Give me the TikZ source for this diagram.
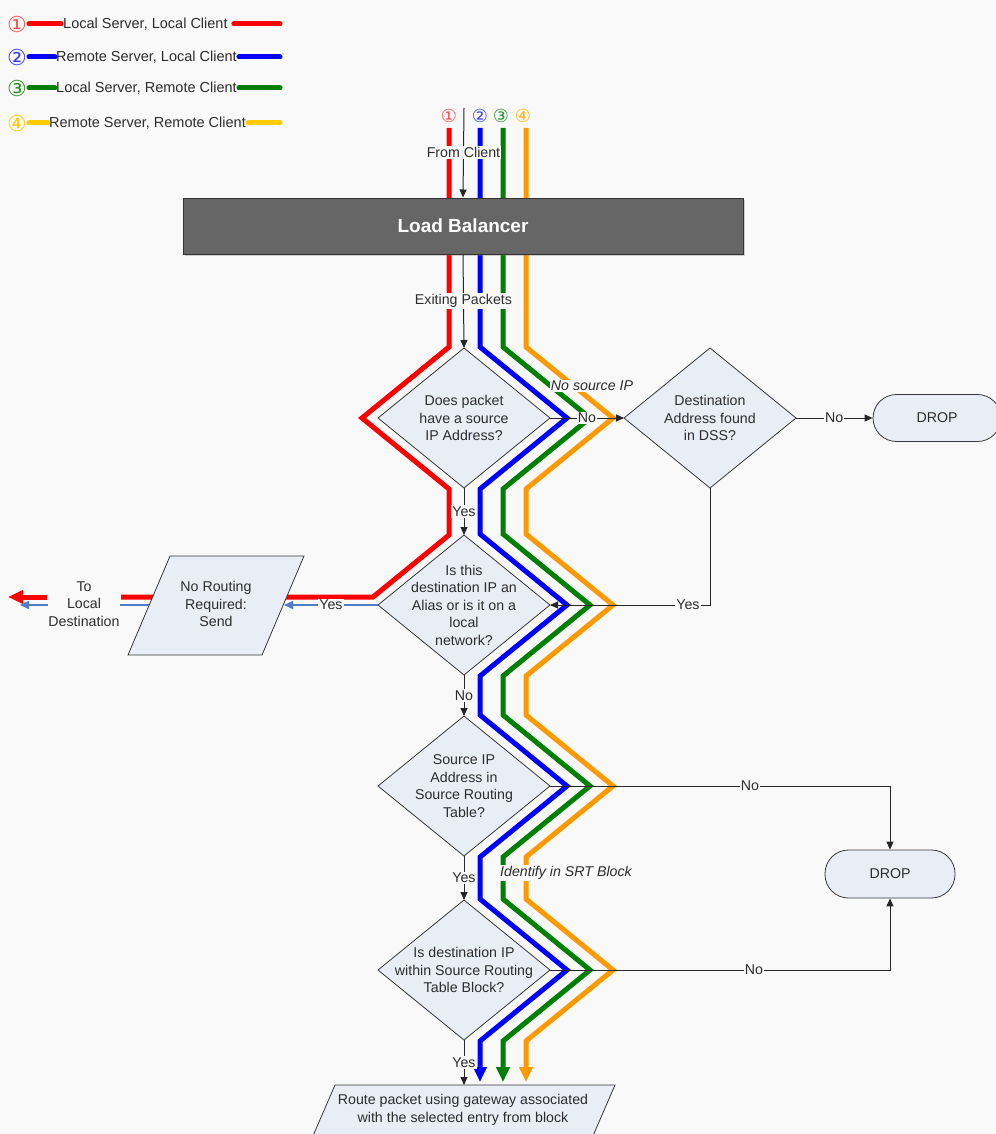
\documentclass[tikz,border=0pt]{standalone}
\usepackage{fontspec}
\setmainfont{Liberation Sans}
\newfontfamily\symfont{DejaVu Sans}
\usetikzlibrary{arrows.meta,shapes.geometric,shadows,calc}
\definecolor{bgc}{RGB}{249,249,249}
\definecolor{cred}{RGB}{255,0,0}
\definecolor{cblue}{RGB}{0,0,255}
\definecolor{cgreen}{RGB}{0,128,0}
\definecolor{corange}{RGB}{255,153,0}
\definecolor{cgold}{RGB}{255,204,0}
\definecolor{dfill}{RGB}{232,237,246}
\definecolor{txt}{RGB}{45,45,45}
\definecolor{yesblue}{RGB}{80,125,200}
\definecolor{lbfill}{RGB}{102,102,102}
\tikzset{
 dia/.style={diamond, draw=black!78, fill=dfill, line width=0.8pt, minimum width=172pt, minimum height=140pt, inner sep=0pt, outer sep=0pt},
 dtext/.style={align=center, font=\fontsize{14.2}{17.5}\selectfont, text=txt, inner sep=0pt},
 lbl/.style={fill=bgc, inner xsep=1pt, inner ysep=1.5pt, font=\fontsize{14.2}{16}\selectfont, text=txt},
 conn/.style={draw=black!85, line width=1pt},
 arr/.style={-{Triangle[length=8pt,width=7pt]}},
 cl/.style={line width=5pt, line join=miter},
 bigarr/.style={-{Triangle[length=15pt,width=13pt]}},
 dropbox/.style={rectangle, rounded corners=23.5pt, draw=black!78, fill=dfill, line width=0.8pt, minimum height=47pt, font=\fontsize{14.2}{16}\selectfont, text=txt},
 pshape/.style={draw=black!78, fill=dfill, line width=0.8pt},
 legt/.style={inner sep=0pt, font=\fontsize{14.5}{16}\selectfont, text=txt},
 legl/.style={line width=5pt, line cap=round},
 circ/.style={font=\symfont\fontsize{22}{24}\selectfont, inner sep=0pt},
 tcirc/.style={font=\symfont\fontsize{18}{20}\selectfont, inner sep=0pt},
 yl/.style={draw=yesblue, line width=1.5pt},
 yarr/.style={-{Triangle[length=9pt,width=8pt]}, yesblue},
}
\begin{document}
\begin{tikzpicture}[x=1pt,y=-1pt]
\useasboundingbox (0,0) rectangle (995,1134);
\fill[bgc] (0,0) rectangle (995,1134);

% ---------- legend ----------
\node[circ, text={rgb,255:red,255;green,80;blue,80}] (c1) at (17,24) {①};
\node[legt, anchor=west] (t1) at (63,24) {Local Server, Local Client};
\coordinate (e1) at (280,24);
\draw[legl, cred] ($(c1.center)+(12,0)$) -- ($(t1.west)+(-2,0)$);
\draw[legl, cred] ($(t1.east)+(6,0)$) -- (e1);

\node[circ, text={rgb,255:red,60;green,60;blue,255}] (c2) at (17,57) {②};
\node[legt, anchor=west] (t2) at (56,57) {Remote Server, Local Client};
\coordinate (e2) at (280,57);
\draw[legl, cblue] ($(c2.center)+(12,0)$) -- ($(t2.west)+(-1,0)$);
\draw[legl, cblue] ($(t2.east)+(2,0)$) -- (e2);

\node[circ, text={rgb,255:red,40;green,150;blue,40}] (c3) at (17,88) {③};
\node[legt, anchor=west] (t3) at (56,88) {Local Server, Remote Client};
\coordinate (e3) at (280,88);
\draw[legl, cgreen] ($(c3.center)+(12,0)$) -- ($(t3.west)+(-1,0)$);
\draw[legl, cgreen] ($(t3.east)+(2,0)$) -- (e3);

\node[circ, text=cgold] (c4) at (17,123) {④};
\node[legt, anchor=west] (t4) at (49,123) {Remote Server, Remote Client};
\coordinate (e4) at (280,123);
\draw[legl, cgold] ($(c4.center)+(12,0)$) -- ($(t4.west)+(-1,0)$);
\draw[legl, cgold] ($(t4.east)+(2,0)$) -- (e4);

% ---------- circled numbers on top ----------
\node[tcirc, text={rgb,255:red,255;green,80;blue,80}] (n1) at (449,116) {①};
\node[tcirc, text={rgb,255:red,60;green,60;blue,255}] (n2) at (480,116) {②};
\node[tcirc, text={rgb,255:red,40;green,150;blue,40}] (n3) at (501,116) {③};
\node[tcirc, text={rgb,255:red,255;green,185;blue,0}] (n4) at (523,116) {④};

% ---------- coloured paths ----------
\foreach \x/\c in {480/cblue, 503/cgreen, 526/corange} {
  \draw[cl, \c, bigarr] (\x,128) -- (\x,347) -- ++(87,71) -- ++(-87,71) -- (\x,534)
     -- ++(87,71) -- ++(-87,71) -- (\x,715) -- ++(87,71) -- ++(-87,71) -- (\x,899)
     -- ++(87,71) -- ++(-87,71) -- (\x,1082);
}
\draw[cl, cred] (449,128) -- (449,347) -- ++(-87,71) -- ++(87,71) -- (449,535) -- (373,597) -- (121,597);
\draw[cl, cred, bigarr] (47,597) -- (8,597);

% ---------- load balancer ----------
\node[draw=black!80, fill=lbfill, minimum width=560pt, minimum height=56pt, line width=1pt,
      drop shadow={opacity=0.35, shadow xshift=1.5pt, shadow yshift=-1.5pt},
      font=\bfseries\fontsize{19}{22}\selectfont, text=white] (lb) at (463,226) {Load Balancer};

% ---------- shapes ----------
\node[dia] (d1) at (464,418) {};
\node[dtext] (d1t) at (d1) {Does packet\\have a source\\IP Address?};
\node[dia] (dss) at (710,418) {};
\node[dtext] (dsst) at (dss) {Destination\\Address found\\in DSS?};
\node[dropbox, minimum width=128pt] (drop1) at (937,418) {DROP};
\node[dia] (d2) at (464,605) {};
\node[dtext] (d2t) at (d2) {Is this\\destination IP an\\Alias or is it on a\\local\\network?};
\node[dia] (d3) at (464,786) {};
\node[dtext] (d3t) at (d3) {Source IP\\Address in\\Source Routing\\Table?};
\node[dia] (d4) at (464,970) {};
\node[dtext] (d4t) at (d4) {Is destination IP\\within Source Routing\\Table Block?};
\node[dropbox, minimum width=130pt, minimum height=48pt] (drop2) at (890,874) {DROP};

\draw[pshape] (170,556) -- (304,556) -- (262,655) -- (128,655) -- cycle;
\node[dtext] (p1) at (216,604) {No Routing\\Required:\\Send};
\coordinate (p1e) at (284,605);
\coordinate (p1w) at (149,605);

\draw[pshape] (335,1085) -- (615,1085) -- (589,1145) -- (309,1145) -- cycle;
\node[dtext] (p2) at (463,1110) {Route packet using gateway associated\\with the selected entry from block};
\coordinate (p2n) at (464,1085);

\node[dtext] (tld) at (84,604) {To\\Local\\Destination};

% ---------- connectors ----------
\coordinate (fc) at (464,108);
\draw[conn, arr] (fc) -- node[lbl] {From Client} (lb.north);
\draw[conn, arr] (lb.south) -- node[lbl] {Exiting Packets} (d1.north);
\draw[conn, arr] (d1.south) -- node[lbl] {Yes} (d2.north);
\draw[conn, arr] (d1.east) -- node[lbl] {No} (dss.west);
\draw[conn, arr] (dss.east) -- node[lbl] {No} (drop1.west);
\draw[conn, arr] (dss.south) |- node[lbl, pos=0.569] {Yes} (d2.east);
\draw[conn, arr] (d2.south) -- node[lbl] {No} (d3.north);
\draw[conn, arr] (d3.east) -| node[lbl, pos=0.294] {No} (drop2.north);
\draw[conn, arr] (d3.south) -- node[lbl] {Yes} (d4.north);
\draw[conn, arr] (d4.east) -| node[lbl, pos=0.30] {No} (drop2.south);
\draw[conn, arr] (d4.south) -- node[lbl] {Yes} (p2n);

\draw[yl, yarr] (d2.west) -- node[lbl] {Yes} (p1e);
\draw[yl] (p1w) -- (tld.east |- p1w);
\coordinate (tlw) at (20,605);
\draw[yl, yarr] (tld.west |- p1w) -- (tlw);

% ---------- italic notes ----------
\node[lbl, font=\itshape\fontsize{14.2}{16}\selectfont] (nsip) at (592,386) {No source IP};
\node[lbl, font=\itshape\fontsize{14.2}{16}\selectfont] (srt) at (566,873) {Identify in SRT Block};
\end{tikzpicture}
\end{document}
